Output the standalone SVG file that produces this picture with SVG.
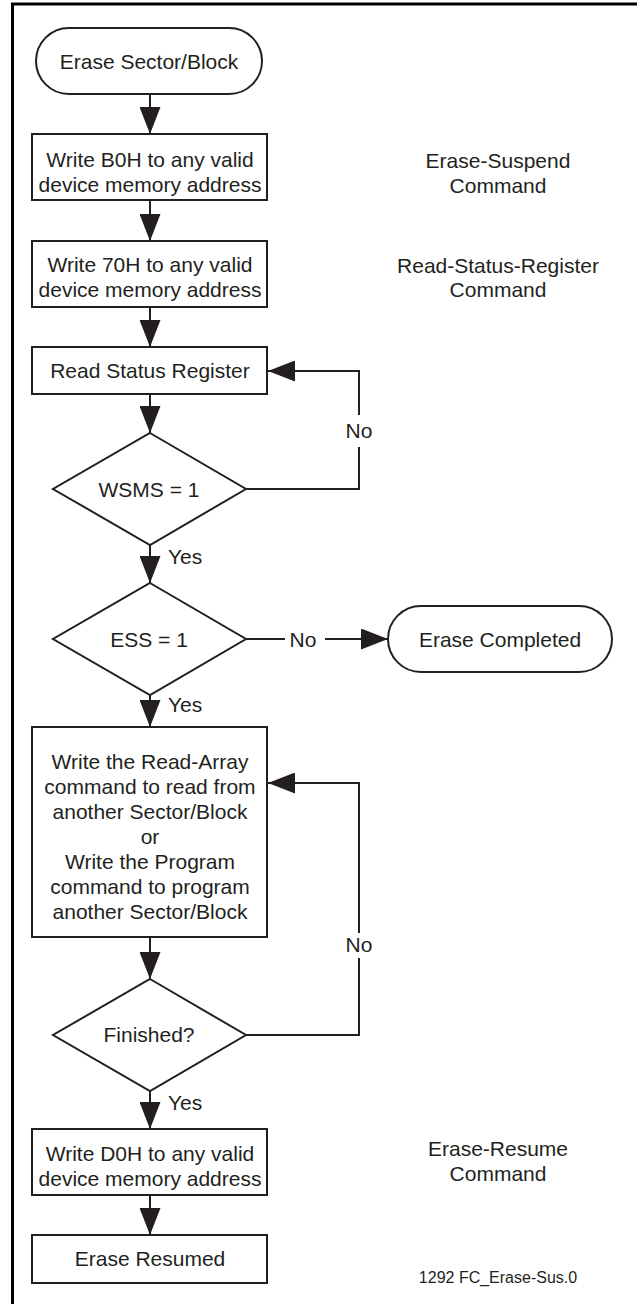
<svg xmlns="http://www.w3.org/2000/svg" width="637" height="1304" viewBox="0 0 637 1304">
<style>
text{font-family:"Liberation Sans",Arial,sans-serif;font-size:21px;fill:#231f20;text-anchor:middle}
.s{font-size:16px}
.l{text-anchor:start}
.n{fill:#fff;stroke:#231f20;stroke-width:2}
.c{fill:none;stroke:#231f20;stroke-width:2}
</style>
<defs>
<marker id="ah" viewBox="0 0 27 21" refX="27" refY="10.5" markerWidth="27" markerHeight="21" markerUnits="userSpaceOnUse" orient="auto"><path d="M0,0 L27,10.5 L0,21 Z" fill="#231f20"/></marker>
</defs>
<rect width="637" height="1304" fill="#fff"/>
<path d="M12.5,1304 V4 H637" fill="none" stroke="#000" stroke-width="3"/>
<g id="connectors">
<line class="c" x1="150" y1="94" x2="150" y2="134" marker-end="url(#ah)"/>
<line class="c" x1="150" y1="200" x2="150" y2="241" marker-end="url(#ah)"/>
<line class="c" x1="150" y1="307" x2="150" y2="347" marker-end="url(#ah)"/>
<line class="c" x1="150" y1="394" x2="150" y2="433" marker-end="url(#ah)"/>
<polyline class="c" points="246,489 359,489 359,447"/>
<polyline class="c" points="359,415 359,371 268,371" marker-end="url(#ah)"/>
<text x="359" y="438">No</text>
<line class="c" x1="150" y1="545" x2="150" y2="583" marker-end="url(#ah)"/>
<text class="l" x="168" y="564">Yes</text>
<line class="c" x1="246" y1="639" x2="285" y2="639"/>
<text x="303" y="647">No</text>
<line class="c" x1="325" y1="639" x2="388" y2="639" marker-end="url(#ah)"/>
<line class="c" x1="150" y1="695" x2="150" y2="727" marker-end="url(#ah)"/>
<text class="l" x="168" y="712">Yes</text>
<line class="c" x1="150" y1="937" x2="150" y2="979" marker-end="url(#ah)"/>
<polyline class="c" points="246,1035 359,1035 359,958"/>
<polyline class="c" points="359,933 359,783 268,783" marker-end="url(#ah)"/>
<text x="359" y="952">No</text>
<line class="c" x1="150" y1="1091" x2="150" y2="1129" marker-end="url(#ah)"/>
<text class="l" x="168" y="1110">Yes</text>
<line class="c" x1="150" y1="1195" x2="150" y2="1235" marker-end="url(#ah)"/>
</g>
<g id="start">
<rect class="n" x="36" y="28" width="226" height="66" rx="33"/>
<text x="149" y="69">Erase Sector/Block</text>
</g>
<g id="writeB0H">
<rect class="n" x="32" y="134" width="235" height="66"/>
<text x="150" y="167">Write B0H to any valid</text>
<text x="150" y="192">device memory address</text>
</g>
<g id="writeB0H-note">
<text x="498" y="168">Erase-Suspend</text>
<text x="498" y="193">Command</text>
</g>
<g id="write70H">
<rect class="n" x="32" y="241" width="235" height="66"/>
<text x="150" y="272">Write 70H to any valid</text>
<text x="150" y="297">device memory address</text>
</g>
<g id="write70H-note">
<text x="498" y="273">Read-Status-Register</text>
<text x="498" y="297">Command</text>
</g>
<g id="readSR">
<rect class="n" x="32" y="347" width="235" height="47"/>
<text x="150" y="378">Read Status Register</text>
</g>
<g id="wsms">
<polygon class="n" points="150,433 246,489 150,545 53,489"/>
<text x="149" y="497">WSMS = 1</text>
</g>
<g id="ess">
<polygon class="n" points="150,583 246,639 150,695 53,639"/>
<text x="149" y="647">ESS = 1</text>
</g>
<g id="completed">
<rect class="n" x="388" y="606" width="224" height="66" rx="33"/>
<text x="500" y="647">Erase Completed</text>
</g>
<g id="readArray">
<rect class="n" x="32" y="727" width="235" height="210"/>
<text x="150" y="769">Write the Read-Array</text>
<text x="150" y="794">command to read from</text>
<text x="150" y="819">another Sector/Block</text>
<text x="150" y="844">or</text>
<text x="150" y="869">Write the Program</text>
<text x="150" y="894">command to program</text>
<text x="150" y="919">another Sector/Block</text>
</g>
<g id="finished">
<polygon class="n" points="150,979 246,1035 150,1091 53,1035"/>
<text x="149" y="1042">Finished?</text>
</g>
<g id="writeD0H">
<rect class="n" x="32" y="1129" width="235" height="66"/>
<text x="150" y="1161">Write D0H to any valid</text>
<text x="150" y="1186">device memory address</text>
</g>
<g id="writeD0H-note">
<text x="498" y="1156">Erase-Resume</text>
<text x="498" y="1181">Command</text>
</g>
<g id="resumed">
<rect class="n" x="32" y="1235" width="235" height="48"/>
<text x="150" y="1266">Erase Resumed</text>
</g>
<g id="figid">
<text class="s" x="498" y="1283">1292 FC_Erase-Sus.0</text>
</g>
</svg>
